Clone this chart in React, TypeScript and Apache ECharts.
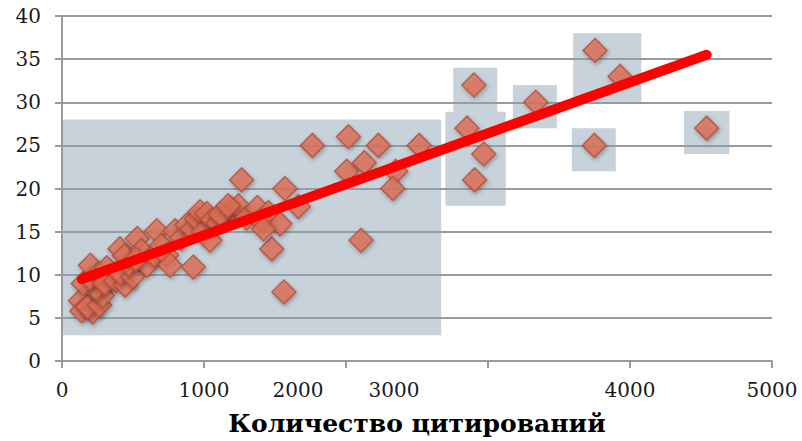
import React, { useEffect, useRef } from 'react';
import * as echarts from 'echarts';

// ---- data ----
const xTicks = [0, 1000, 2000, 3000, 4000, 5000];
const yTicks = [0, 5, 10, 15, 20, 25, 30, 35, 40];
const xTitle = 'Количество цитирований';

const citations = [
  130, 140, 215, 180, 265, 285, 240, 150, 195, 200,
  260, 315, 350, 300, 380, 445, 410, 500, 470, 408,
  440, 530, 560, 600, 520, 650, 667, 700, 737, 761,
  796, 840, 880, 920, 925, 948, 972, 995, 1042, 1020,
  1060, 1100, 1136, 1183, 1206, 1242, 1265, 1300, 1376, 1406,
  1453, 1477, 1535, 1563, 1570, 1664, 1763, 2017, 2005, 2129,
  2106, 2228, 2350, 2329, 2515, 2901, 2852, 2970, 2906, 3336,
  3754, 3930, 3749, 4540, 1113, 1169, 1420,
];
const values = [
  7, 5.8, 5.7, 6.3, 6.5, 7.6, 8.4, 9, 9.6, 11.1,
  10.2, 10.8, 9.6, 9, 9.3, 8.8, 10.2, 9.8, 11.2, 13,
  12.2, 14.2, 12.8, 11.1, 11.8, 12.3, 15.1, 13.4, 12.3, 11.1,
  15.1, 14.2, 15.8, 15.3, 10.9, 16.5, 17.3, 15, 14, 17.1,
  16.4, 16, 16.9, 17.8, 17.3, 18, 21, 16.6, 17.8, 16.3,
  17.2, 13, 15.9, 8, 20, 17.9, 25, 26, 22, 23,
  14, 25, 22, 20, 25, 32, 27, 24, 21, 30,
  36, 33, 25, 27, 17, 18, 15.3,
];

// trend line end points
const trendX = [140, 4540];
const trendY = [9.5, 35.5];

// highlighted cluster boxes (data units)
const boxX0 = [0, 2700, 2755, 3175, 3600, 3590, 4380];
const boxX1 = [2670, 3125, 3065, 3485, 4080, 3900, 4700];
const boxY0 = [3, 18, 28.9, 27, 30, 22, 24];
const boxY1 = [28, 28.9, 34, 32, 38, 27, 29];

const labelShift: Record<number, number> = { 2000: 96, 3000: 188 };

export default function App() {
  const ref = useRef<HTMLDivElement>(null);
  useEffect(() => {
    document.body.style.margin = '0';
    if (!ref.current) return;
    const chart = echarts.init(ref.current, null, { renderer: 'svg' });
    const font = 'DejaVu Serif';
    const gray = '#9a9a9a';
    const labelSize = 20;
    const points = citations.map((c, i) => [c, values[i]]);
    const areas = boxX0.map((x0, i) => [
      { coord: [x0, boxY0[i]] },
      { coord: [boxX1[i], boxY1[i]] },
    ]);
    const rich: Record<string, any> = {};
    xTicks.forEach((t) => {
      if (labelShift[t]) {
        rich['s' + t] = {
          padding: [0, labelShift[t], 0, 0],
          fontFamily: font,
          fontSize: labelSize,
          color: '#1a1a1a',
        };
      }
    });
    chart.setOption({
      animation: false,
      backgroundColor: '#ffffff',
      grid: { left: 62, right: 30, top: 16, bottom: 78, containLabel: false },
      xAxis: {
        type: 'value',
        min: xTicks[0],
        max: xTicks[xTicks.length - 1],
        interval: 1000,
        name: xTitle,
        nameLocation: 'middle',
        nameGap: 50,
        nameTextStyle: {
          fontFamily: font,
          fontWeight: 'bold',
          fontSize: 25,
          color: '#000',
        },
        axisLine: { show: true, lineStyle: { color: gray, width: 2 } },
        axisTick: { show: true, length: 7, lineStyle: { color: gray, width: 2 } },
        splitLine: { show: false },
        axisLabel: {
          margin: 19,
          fontFamily: font,
          fontSize: labelSize,
          color: '#1a1a1a',
          formatter: (v: number) => (labelShift[v] ? `{s${v}|${v}}` : String(v)),
          rich,
        },
      },
      yAxis: {
        type: 'value',
        min: yTicks[0],
        max: yTicks[yTicks.length - 1],
        interval: 5,
        axisLine: { show: true, lineStyle: { color: gray, width: 2 } },
        axisTick: { show: true, length: 7, lineStyle: { color: gray, width: 2 } },
        splitLine: { show: true, lineStyle: { color: gray, width: 2 } },
        axisLabel: {
          margin: 21,
          fontFamily: font,
          fontSize: labelSize,
          color: '#1a1a1a',
        },
      },
      series: [
        {
          type: 'scatter',
          data: [],
          z: 1,
          markArea: {
            silent: true,
            itemStyle: { color: 'rgba(138,161,178,0.48)' },
            data: areas,
          },
        },
        {
          type: 'scatter',
          z: 3,
          symbol: 'diamond',
          symbolSize: 24,
          data: points,
          itemStyle: {
            color: '#de6f58',
            borderColor: '#b04e3a',
            borderWidth: 1.5,
            shadowBlur: 4,
            shadowColor: 'rgba(0,0,0,0.35)',
            shadowOffsetX: 1,
            shadowOffsetY: 2,
          },
        },
        {
          type: 'line',
          z: 4,
          data: trendX.map((x, i) => [x, trendY[i]]),
          showSymbol: false,
          symbol: 'none',
          lineStyle: { color: '#ff0000', width: 10, cap: 'round' },
        },
      ],
    });
    return () => chart.dispose();
  }, []);
  return <div ref={ref} style={{ width: 802, height: 441 }} />;
}
